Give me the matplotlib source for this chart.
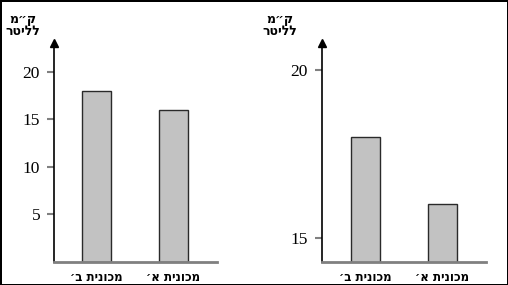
import matplotlib
matplotlib.use("Agg")
import matplotlib.pyplot as plt

categories = ["מכונית ב׳", "מכונית א׳"]
values = [18.0, 16.0]
left_ticks = [5, 10, 15, 20]
right_ticks = [15, 20]
unit_line1 = "ק״מ"
unit_line2 = "לליטר"

def vis(s):
    return s[::-1]

W, H = 508, 285
fig = plt.figure(figsize=(W / 100, H / 100), dpi=100)
fig.patch.set_facecolor("white")
HEB = ["DejaVu Sans", "Noto Sans"]

def make_axes(x0, x1, y_bot, y_top, xlim, ylim, ticks, label_x):
    ax = fig.add_axes([x0 / W, (H - y_bot) / H, (x1 - x0) / W, (y_bot - y_top) / H])
    xs = list(range(len(categories)))
    ax.bar(xs, values, width=29 / 77, color="#c2c2c2", edgecolor="#2a2a2a",
           linewidth=1.0, zorder=2)
    ax.set_xlim(*xlim)
    ax.set_ylim(*ylim)
    for s in ["top", "right"]:
        ax.spines[s].set_visible(False)
    ax.spines["left"].set_color("black")
    ax.spines["left"].set_linewidth(1.2)
    ax.spines["bottom"].set_color("#808080")
    ax.spines["bottom"].set_linewidth(2)
    ax.spines["bottom"].set_zorder(3)
    ax.set_yticks(ticks)
    ax.set_yticklabels([str(t) for t in ticks], fontfamily="Liberation Serif",
                       fontsize=12.5)
    ax.tick_params(axis="y", length=5, width=1.5, color="#808080", pad=5)
    ax.set_xticks(xs)
    ax.set_xticklabels([vis(c) for c in categories], fontfamily=HEB,
                       fontsize=8.5, fontweight="bold")
    ax.tick_params(axis="x", length=0, pad=6.5)
    ax.plot([0], [1], marker="^", color="black", markersize=6,
            transform=ax.transAxes, clip_on=False, zorder=5)
    fig.text(label_x / W, (H - 19.5) / H, vis(unit_line1), ha="center", va="center",
             fontfamily=HEB, fontsize=9, fontweight="bold")
    fig.text(label_x / W, (H - 31.5) / H, vis(unit_line2), ha="center", va="center",
             fontfamily=HEB, fontsize=9, fontweight="bold")
    return ax

make_axes(54, 217, 262, 43, (-0.552, 1.565), (0, 23.05), left_ticks, 23)
make_axes(322, 486, 262, 43, (-0.565, 1.565), (14.286, 20.80), right_ticks, 280)

fig.patch.set_edgecolor("black")
fig.patch.set_linewidth(2)

fig.savefig("out.png", dpi=100, facecolor=fig.get_facecolor(),
            edgecolor=fig.get_edgecolor())
